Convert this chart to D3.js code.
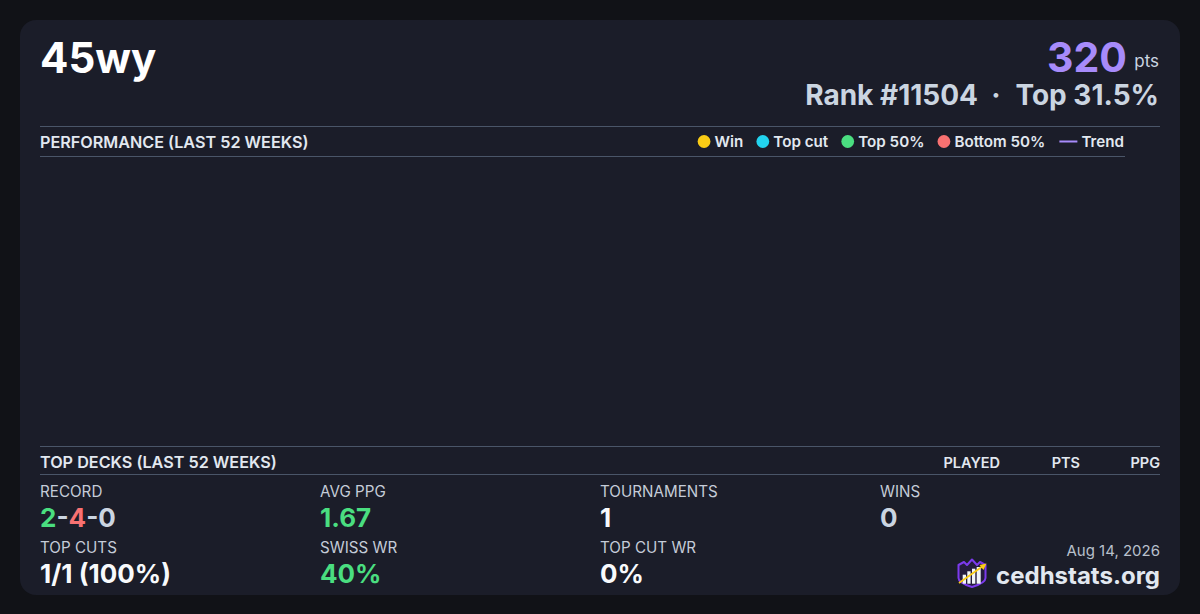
<!DOCTYPE html>
<html>
<head>
<meta charset="utf-8">
<script src="https://cdn.jsdelivr.net/npm/d3@7"></script>
<style>
  html, body { margin: 0; padding: 0; background: #111217; }
  svg { display: block; font-family: Inter, "Noto Sans", sans-serif; }
</style>
</head>
<body>
<div id="chart"></div>
<script>
'use strict';

// player card data
const playerName = '45wy';
const points = 320;
const rank = 11504;
const topPercent = 31.5;
const cardDate = 'Aug 14, 2026';

// performance chart (no events in the window)
const legendLabels = ['Win', 'Top cut', 'Top 50%', 'Bottom 50%', 'Trend'];
const weekDates = [];      // event dates
const weekPoints = [];     // points per event
const weekResults = [];    // result category per event

// top decks table
const deckColumns = ['PLAYED', 'PTS', 'PPG'];
const topDecks = [];

// stats grid
const record = [2, 4, 0];
const statLabels = ['RECORD', 'AVG PPG', 'TOURNAMENTS', 'WINS', 'TOP CUTS', 'SWISS WR', 'TOP CUT WR'];
const statValues = ['2-4-0', '1.67', '1', '0', '1/1 (100%)', '40%', '0%'];

const W = 1200, H = 614;
const lineColor = '#4a5568';
const resultColor = d3.scaleOrdinal()
  .domain(legendLabels)
  .range(['#facc15', '#22d3ee', '#4ade80', '#f87171', '#a78bfa']);

const svg = d3.select('#chart').append('svg')
  .attr('width', W)
  .attr('height', H);

svg.append('rect').attr('width', W).attr('height', H).attr('fill', '#111217');
svg.append('rect')
  .attr('x', 20).attr('y', 20).attr('width', 1160).attr('height', 575)
  .attr('rx', 16).attr('fill', '#1b1d29');

// header
svg.append('text').attr('x', 40).attr('y', 73)
  .attr('font-size', 42).attr('font-weight', 700).attr('fill', '#ffffff')
  .text(playerName);

svg.append('text').attr('x', 1159).attr('y', 67).attr('text-anchor', 'end')
  .attr('font-size', 17).attr('fill', '#cbd5e1').text('pts');
svg.append('text').attr('x', 1127).attr('y', 72).attr('text-anchor', 'end')
  .attr('font-size', 41).attr('font-weight', 700).attr('fill', '#a78bfa')
  .text(points);

const rankG = svg.append('g').attr('font-size', 28).attr('font-weight', 700).attr('fill', '#cbd5e1');
rankG.append('text').attr('x', 1159).attr('y', 105).attr('text-anchor', 'end')
  .text('Top ' + topPercent + '%');
rankG.append('text').attr('x', 996).attr('y', 105).attr('text-anchor', 'middle')
  .text('·');
rankG.append('text').attr('x', 978).attr('y', 105).attr('text-anchor', 'end')
  .text('Rank #' + rank);

// section rules
const rules = [[40, 1160, 126], [40, 1125, 156], [40, 1160, 446], [40, 1160, 474]];
svg.selectAll('line.rule').data(rules).enter().append('line')
  .attr('class', 'rule')
  .attr('x1', d => d[0]).attr('x2', d => d[1])
  .attr('y1', d => d[2] + 0.5).attr('y2', d => d[2] + 0.5)
  .attr('stroke', lineColor).attr('stroke-width', 1);

svg.append('text').attr('x', 40).attr('y', 148)
  .attr('font-size', 16.2).attr('font-weight', 600).attr('fill', '#e2e8f0')
  .text('PERFORMANCE (LAST 52 WEEKS)');

// legend, laid out right-to-left from the rule end
const legend = svg.append('g').attr('font-size', 15.2).attr('font-weight', 600).attr('fill', '#e2e8f0');
let lx = 1124;
legendLabels.slice().reverse().forEach(lbl => {
  const t = legend.append('text').attr('x', lx).attr('y', 147)
    .attr('text-anchor', 'end').text(lbl);
  const w = t.node().getComputedTextLength();
  const start = lx - w;
  if (lbl === 'Trend') {
    legend.append('line')
      .attr('x1', start - 22).attr('x2', start - 4)
      .attr('y1', 141.5).attr('y2', 141.5)
      .attr('stroke', resultColor(lbl)).attr('stroke-width', 2);
    lx = start - 22 - 14;
  } else {
    legend.append('circle')
      .attr('cx', start - 10.5).attr('cy', 141.5).attr('r', 6.4)
      .attr('fill', resultColor(lbl));
    lx = start - 17 - 13;
  }
});

// performance plot area (scales drawn from the empty event arrays)
const plot = { left: 40, right: 1125, top: 164, bottom: 438 };
const now = new Date(2026, 7, 14);
const x = d3.scaleTime()
  .domain([d3.timeWeek.offset(now, -52), now])
  .range([plot.left, plot.right]);
const y = d3.scaleLinear()
  .domain([0, d3.max(weekPoints) || 1])
  .range([plot.bottom, plot.top]);

const events = weekDates.map((d, i) => ({ date: d, pts: weekPoints[i], res: weekResults[i] }));
svg.append('g').selectAll('circle').data(events).enter().append('circle')
  .attr('cx', d => x(d.date)).attr('cy', d => y(d.pts)).attr('r', 5)
  .attr('fill', d => resultColor(d.res));
if (events.length > 1) {
  svg.append('path').datum(events)
    .attr('fill', 'none').attr('stroke', resultColor('Trend')).attr('stroke-width', 2)
    .attr('d', d3.line().x(d => x(d.date)).y(d => y(d.pts)));
}

// top decks header
svg.append('text').attr('x', 40).attr('y', 468)
  .attr('font-size', 16.2).attr('font-weight', 600).attr('fill', '#e2e8f0')
  .text('TOP DECKS (LAST 52 WEEKS)');
const colX = d3.scalePoint().domain(deckColumns).range([1000, 1160]);
svg.append('g').selectAll('text').data(deckColumns).enter().append('text')
  .attr('x', d => colX(d)).attr('y', 467.5).attr('text-anchor', 'end')
  .attr('font-size', 14.5).attr('font-weight', 600).attr('fill', '#e2e8f0')
  .text(d => d);

// stats grid
const colScale = d3.scaleBand().domain(d3.range(4)).range([40, 1160]);
const rowScale = d3.scaleBand().domain(d3.range(2)).range([478, 590]);
const valueColor = ['record', '#4ade80', '#f8fafc', '#cbd5e1', '#f8fafc', '#4ade80', '#f8fafc'];

statLabels.forEach((lbl, i) => {
  const row = i < 4 ? 0 : 1;
  const col = i < 4 ? i : i - 4;
  const sx = colScale(col);
  const ry = rowScale(row);
  svg.append('text').attr('x', sx).attr('y', ry + 19)
    .attr('font-size', 15.2).attr('fill', '#c5ccd8').text(lbl);
  const v = svg.append('text').attr('x', sx).attr('y', ry + 49)
    .attr('font-size', 26).attr('font-weight', 700);
  if (valueColor[i] === 'record') {
    v.append('tspan').attr('fill', '#4ade80').text(record[0]);
    v.append('tspan').attr('fill', '#cbd5e1').text('-');
    v.append('tspan').attr('fill', '#f87171').text(record[1]);
    v.append('tspan').attr('fill', '#cbd5e1').text('-' + record[2]);
  } else {
    v.attr('fill', valueColor[i]).text(statValues[i]);
  }
});

// footer
svg.append('text').attr('x', 1160).attr('y', 556).attr('text-anchor', 'end')
  .attr('font-size', 15).attr('fill', '#b8c0cc').text(cardDate);
svg.append('text').attr('x', 1160).attr('y', 584).attr('text-anchor', 'end')
  .attr('font-size', 24).attr('font-weight', 700).attr('fill', '#e2e8f0').text('cedhstats.org');

// logo
const logo = svg.append('g').attr('transform', 'translate(957,559)');
logo.append('path')
  .attr('d', 'M1.5,6 L7,3 L10,6 L15,0.5 L20,6 L23,3 L28.5,6 L28.5,19 Q28.5,24 15,28 Q1.5,24 1.5,19 Z')
  .attr('fill', '#241c3d').attr('stroke', '#7c3aed').attr('stroke-width', 2).attr('stroke-linejoin', 'round');
const bars = [[5.7, 15.7, 3.3], [10.3, 12.3, 3.3], [15, 9.7, 3.3], [19.7, 8, 4]];
logo.selectAll('rect').data(bars).enter().append('rect')
  .attr('x', d => d[0]).attr('y', d => d[1]).attr('width', d => d[2]).attr('height', d => 24.7 - d[1])
  .attr('fill', '#f1f5f9');
logo.append('line').attr('x1', 2).attr('y1', 24).attr('x2', 26).attr('y2', 7)
  .attr('stroke', '#facc15').attr('stroke-width', 1.8);
logo.append('path').attr('d', 'M29.5,4.5 L22.5,6 L26.5,11 Z').attr('fill', '#facc15');
</script>
</body>
</html>
